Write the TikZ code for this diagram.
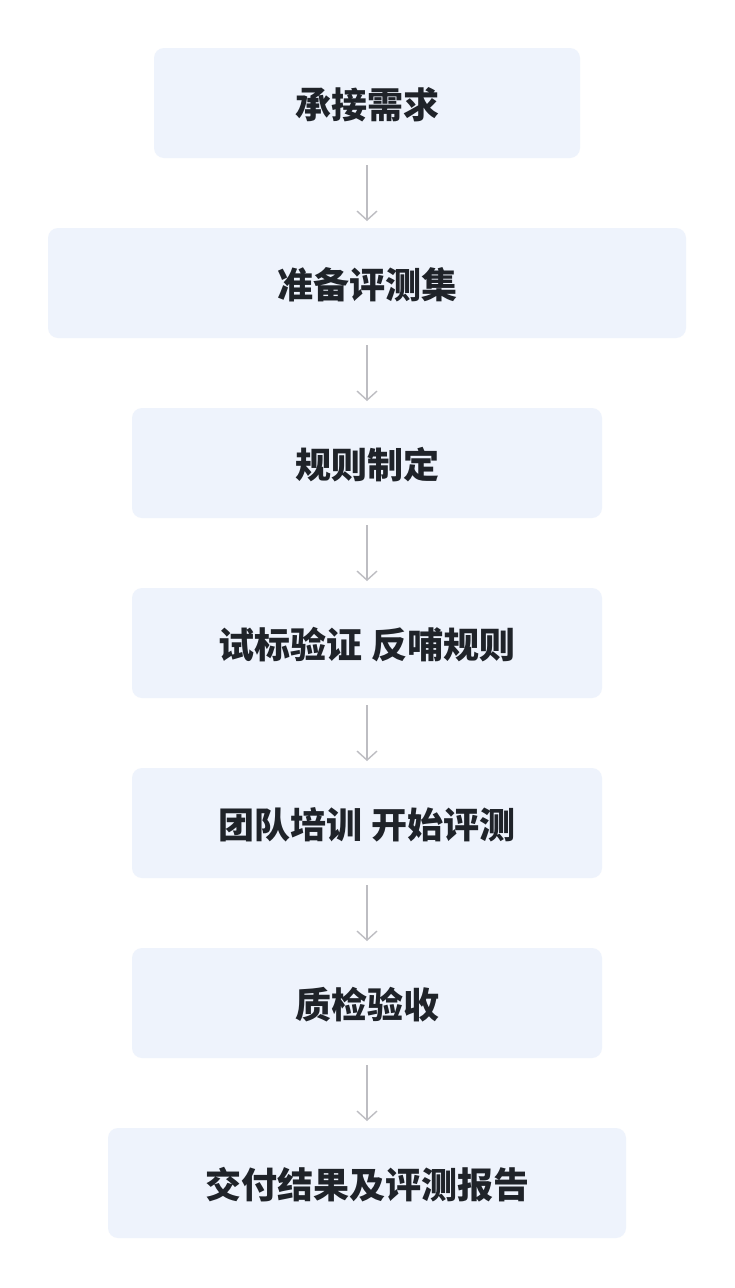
\documentclass[tikz,border=0pt]{standalone}
\usepackage{fontspec}
\newfontfamily\cjk{Noto Sans CJK SC}
\usetikzlibrary{arrows.meta}
\definecolor{boxfill}{HTML}{EEF3FC}
\definecolor{txt}{HTML}{1F2329}
\definecolor{arr}{HTML}{BDBDC2}
\tikzset{
  stepbox/.style={fill=boxfill, rounded corners=10pt, inner sep=0pt, draw=none},
  lbl/.style={font=\cjk\bfseries\fontsize{36pt}{40pt}\selectfont, text=txt, inner sep=0pt},
  flow/.style={draw=arr, line width=1.4pt, -{Straight Barb[length=9pt,width=20pt,line width=1.4pt]}}
}
\begin{document}
\begin{tikzpicture}[x=1pt,y=-1pt]
\useasboundingbox (0,0) rectangle (734,1288);
\fill[white] (0,0) rectangle (734,1288);
% boxes
\fill[stepbox] (154,48) rectangle (580,158);
\fill[stepbox] (48,228) rectangle (686,338);
\fill[stepbox] (132,408) rectangle (602,518);
\fill[stepbox] (132,588) rectangle (602,698);
\fill[stepbox] (132,768) rectangle (602,878);
\fill[stepbox] (132,948) rectangle (602,1058);
\fill[stepbox] (108,1128) rectangle (626,1238);
\node[lbl] (n1) at (367,105) {承接需求};
\node[lbl] (n2) at (367,285) {准备评测集};
\node[lbl] (n3) at (367,465) {规则制定};
\node[lbl] (n4) at (367,645) {试标验证 反哺规则};
\node[lbl] (n5) at (367,825) {团队培训 开始评测};
\node[lbl] (n6) at (367,1005) {质检验收};
\node[lbl] (n7) at (367,1185) {交付结果及评测报告};
\coordinate (a1) at (367,165); \coordinate (b1) at (367,221);
\coordinate (a2) at (367,345); \coordinate (b2) at (367,401);
\coordinate (a3) at (367,525); \coordinate (b3) at (367,581);
\coordinate (a4) at (367,705); \coordinate (b4) at (367,761);
\coordinate (a5) at (367,885); \coordinate (b5) at (367,941);
\coordinate (a6) at (367,1065); \coordinate (b6) at (367,1121);
\foreach \i in {1,...,6} \draw[flow] (a\i) -- (b\i);
\end{tikzpicture}
\end{document}
